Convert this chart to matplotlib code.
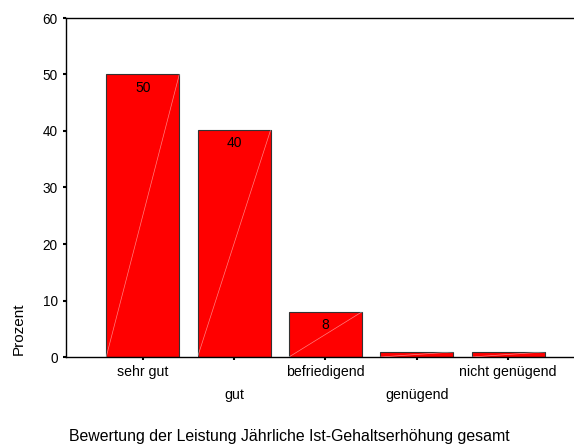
import matplotlib
matplotlib.use("Agg")
import matplotlib.pyplot as plt

categories = ["sehr gut", "gut", "befriedigend", "genügend", "nicht genügend"]
values = [50.0, 40.2, 8.0, 0.9, 0.9]
labels = ["50", "40", "8", "", ""]
yticks = [0, 10, 20, 30, 40, 50, 60]

plt.rcParams['font.family'] = ['Liberation Sans', 'DejaVu Sans']

fig = plt.figure(figsize=(5.74, 4.44), dpi=100)
ax = fig.add_axes([66/574, 1 - 357/444, (574 - 66)/574, (357 - 18)/444])

x = list(range(len(categories)))
w = 0.8
ax.bar(x, values, width=w, color="#ff0000", edgecolor="#333333", linewidth=0.8, zorder=2)
for xi, v, lab in zip(x, values, labels):
    ax.plot([xi - w/2, xi + w/2], [0, v], color="white", linewidth=0.5, alpha=0.5, zorder=3)
    if lab:
        ax.annotate(lab, (xi, v), xytext=(0, -9.8), textcoords="offset points",
                    ha="center", va="center", fontsize=10, zorder=4)

ax.set_xlim(-0.84, 4.72)
ax.set_ylim(0, 60)
ax.set_yticks(yticks)
ax.set_yticklabels([str(t) for t in yticks], fontsize=9.8)
ax.set_xticks(x)
ax.set_xticklabels([])
for xi, c in zip(x, categories):
    off = -11 if xi % 2 == 0 else -27.5
    ax.annotate(c, (xi, 0), xytext=(0, off), textcoords="offset points",
                ha="center", va="center", fontsize=10.2, annotation_clip=False)

ax.tick_params(axis="both", direction="out", length=2.5, width=1.5, pad=3.5)
for s in ["left", "top", "bottom"]:
    ax.spines[s].set_linewidth(1.0)
ax.spines["right"].set_visible(False)

fig.text(289/574, 1 - 436/444, "Bewertung der Leistung Jährliche Ist-Gehaltserhöhung gesamt",
         ha="center", va="center", fontsize=11.4)
fig.text(18.5/574, 1 - 328.5/444, "Prozent", rotation=90, ha="center", va="center", fontsize=11)

fig.savefig("out.png", dpi=100)
